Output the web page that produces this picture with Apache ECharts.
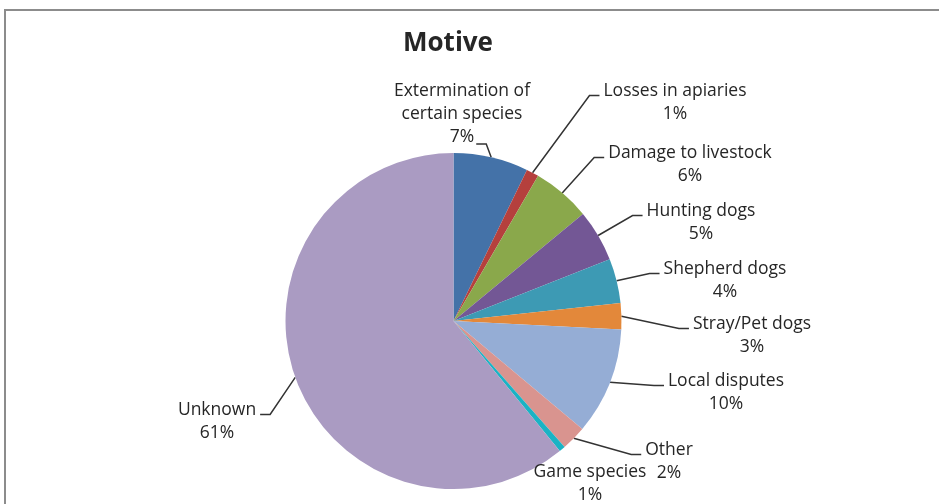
<!DOCTYPE html>
<html>
<head>
<meta charset="utf-8">
<script src="https://cdn.jsdelivr.net/npm/echarts@6/dist/echarts.min.js"></script>
<style>
  html, body { margin: 0; padding: 0; background: #fff; }
  #wrap { position: relative; width: 939px; height: 504px; overflow: hidden; background: #fff; }
  #frame { position: absolute; left: 4px; top: 9px; width: 960px; height: 520px;
           border-top: 2px solid #8c8c8c; border-left: 2px solid #8c8c8c; box-sizing: border-box; }
  #chart { position: absolute; left: 0; top: 0; width: 939px; height: 504px; }
</style>
</head>
<body>
<div id="wrap">
  <div id="frame"></div>
  <div id="chart"></div>
</div>
<script>
// ---- data ----
var categories = [
  'Extermination of\ncertain species',
  'Losses in apiaries',
  'Damage to livestock',
  'Hunting dogs',
  'Shepherd dogs',
  'Stray/Pet dogs',
  'Local disputes',
  'Other',
  'Game species',
  'Unknown'
];
var values = [7.2, 1.2, 5.6, 5.0, 4.3, 2.5, 10.3, 2.4, 0.6, 60.9];
var colors = ['#4472A8', '#B5403D', '#8AA84B', '#735795', '#3D9AB4',
              '#E3883A', '#95ADD5', '#D9948F', '#1AB3C4', '#AA9BC2'];
var titleText = 'Motive';

// ---- label layout (text placement, Excel-style) ----
var labelPos = [[462, 114], [675, 103], [690, 165], [701, 223], [725, 281],
                [752, 336], [726, 393], [669, 462], [590, 484], [217, 422]];
var leaderSide = ['B', 'L', 'L', 'L', 'L', 'L', 'L', 'L', '', 'R'];

var FONT_SIZE = 17.5, LH = 23, FONT_FAMILY = 'Open Sans';
var TITLE_SIZE = 26;
var mctx = document.createElement('canvas').getContext('2d');
function textW(s, font) { mctx.font = font || (FONT_SIZE + 'px "' + FONT_FAMILY + '"'); return mctx.measureText(s).width; }

var total = values.reduce(function (a, b) { return a + b; }, 0);
function labelLines(i) {
  var pct = Math.round(values[i] / total * 100) + '%';
  return categories[i].split('\n').concat([pct]);
}

var chart = echarts.init(document.getElementById('chart'), null, { renderer: 'canvas' });
chart.setOption({
  animation: false,
  backgroundColor: 'transparent',
  title: {
    text: titleText,
    left: 398,
    top: 26,
    textStyle: { fontFamily: FONT_FAMILY, fontSize: TITLE_SIZE, fontWeight: 'bold', color: '#262626' }
  },
  color: colors,
  series: [{
    type: 'pie',
    center: [453.5, 321],
    radius: 168,
    startAngle: 90,
    clockwise: true,
    avoidLabelOverlap: false,
    emphasis: { disabled: true },
    itemStyle: { borderWidth: 0 },
    data: categories.map(function (n, i) { return { name: n, value: values[i] }; }),
    label: {
      show: true,
      position: 'outside',
      formatter: function (p) {
        return labelLines(p.dataIndex).map(function (s) { return '{a|' + s + '}'; }).join('\n');
      },
      rich: {
        a: { fontFamily: FONT_FAMILY, fontSize: FONT_SIZE, lineHeight: LH, color: '#262626', align: 'center' }
      }
    },
    labelLine: { show: true, lineStyle: { color: '#333', width: 1.5 } },
    labelLayout: function (p) {
      var i = p.dataIndex, c = labelPos[i];
      var lines = labelLines(i), n = lines.length;
      var wmax = Math.max.apply(null, lines.map(function (s) { return textW(s); }));
      var y1 = c[1] - (n - 1) * LH / 2, yN = c[1] + (n - 1) * LH / 2;
      var s = (p.labelLinePoints && p.labelLinePoints[0]) || c;
      var side = leaderSide[i], e, b, pts;
      if (side === 'L') { e = [c[0] - wmax / 2 - 4, y1 + 4]; b = [e[0] - 10, e[1]]; pts = [s, b, e]; }
      else if (side === 'R') { e = [c[0] + wmax / 2 + 4, y1 + 4]; b = [e[0] + 10, e[1]]; pts = [s, b, e]; }
      else if (side === 'B') { e = [c[0] + textW(lines[n - 1]) / 2 + 2, yN + 7]; b = [e[0] + 10, e[1]]; pts = [s, b, e]; }
      else { pts = [s, s, s]; }
      return { x: c[0], y: c[1], align: 'center', verticalAlign: 'middle', labelLinePoints: pts };
    }
  }]
});
</script>
</body>
</html>
